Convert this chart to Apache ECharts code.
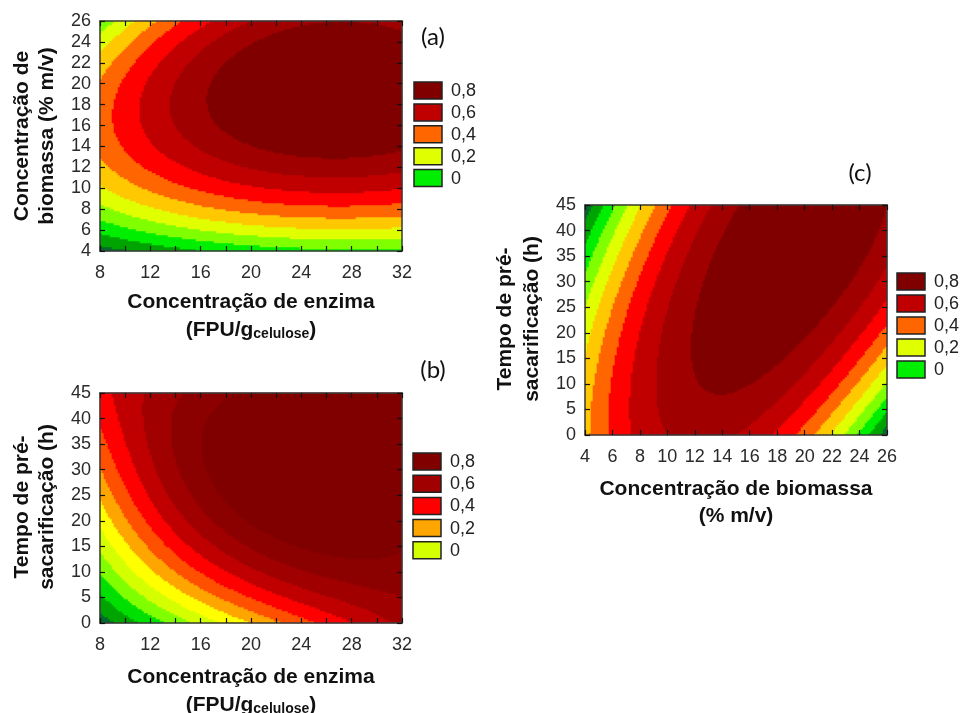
<!DOCTYPE html>
<html>
<head>
<meta charset="utf-8">
<script src="https://cdn.jsdelivr.net/npm/echarts@6/dist/echarts.min.js"></script>
<style>
  html, body { margin: 0; padding: 0; background: #ffffff; }
  #chart { width: 962px; height: 713px; }
</style>
</head>
<body>
<div id="chart"></div>
<script>
// Fitted response-surface coefficients: z = sum c[i][j] * u^i * v^j,
// u and v are the two factors coded to [-1, 1] over the plotted ranges.
const surfaceA = [[0.83, 0.33, -0.46], [0.205, 0.105, 0.01], [-0.185, -0.09, 0.015]];   // enzyme x biomass
const surfaceB = [[0.85, 0.31, -0.34], [0.345, -0.1475, -0.0025], [-0.335, -0.0475, 0.2175]]; // enzyme x time
const surfaceC = [[0.88, 0.045, -0.135], [0.145, 0.3775, -0.0375], [-0.505, 0.0625, -0.0325]]; // biomass x time

// Factor ranges
const enzymeRange = [8, 32];
const biomassRange = [4, 26];
const timeRange = [0, 45];

// Contour levels and band colours
const levelsAC = [-0.1, 0, 0.1, 0.2, 0.3, 0.4, 0.5, 0.6, 0.7, 0.8];
const colorsAC = ['#006b2c', '#00a400', '#00ee00', '#80ff00', '#e0ff00', '#ffc800',
                  '#ff6600', '#ff0000', '#c00000', '#a00000', '#800000'];
const levelsB = [-0.3, -0.2, -0.1, 0, 0.1, 0.2, 0.3, 0.4, 0.5, 0.6, 0.7, 0.8];
const colorsB = ['#006b2c', '#00a400', '#00e000', '#80ff00', '#d4ff00', '#ffff00', '#ffa500',
                 '#ff5000', '#ff0000', '#c00000', '#a00000', '#8c0000', '#800000'];

// Legend entries
const legendLabels = ['0,8', '0,6', '0,4', '0,2', '0'];
const legendColorsAC = ['#800000', '#c00000', '#ff6600', '#e0ff00', '#00ee00'];
const legendColorsB = ['#800000', '#a00000', '#ff0000', '#ffa500', '#d4ff00'];

const FAMILY = '"Liberation Sans", Arial, sans-serif';
const INK = '#111111';
const NX = 151, NY = 115;   // sampling cells per panel (2 px each)

const panels = [
  { grid: { left: 100, top: 21, width: 302, height: 230 }, xr: enzymeRange, yr: biomassRange,
    coef: surfaceA, xInt: 4, xMinor: true, yInt: 2, levels: levelsAC, colors: colorsAC,
    legendColors: legendColorsAC, legendX: 414, legendY: 82, legendStep: 21.9,
    tag: { text: '(a)', x: 433, y: 37 },
    xTitle: { y1: 302, y2: 330, main: 'Concentração de enzima', sub: ['(FPU/g', 'celulose', ')'] },
    yTitle: { x1: 22, x2: 47, y: 136, lines: ['Concentração de', 'biomassa (% m/v)'] } },
  { grid: { left: 100, top: 393, width: 302, height: 230 }, xr: enzymeRange, yr: timeRange,
    coef: surfaceB, xInt: 4, xMinor: true, yInt: 5, levels: levelsB, colors: colorsB,
    legendColors: legendColorsB, legendX: 413, legendY: 453, legendStep: 22.2,
    tag: { text: '(b)', x: 433, y: 370 },
    xTitle: { y1: 677, y2: 705, main: 'Concentração de enzima', sub: ['(FPU/g', 'celulose', ')'] },
    yTitle: { x1: 22, x2: 47, y: 507, lines: ['Tempo de pré-', 'sacarificação (h)'] } },
  { grid: { left: 585, top: 205, width: 302, height: 230 }, xr: biomassRange, yr: timeRange,
    coef: surfaceC, xInt: 2, xMinor: false, yInt: 5, levels: levelsAC, colors: colorsAC,
    legendColors: legendColorsAC, legendX: 897, legendY: 273, legendStep: 22,
    tag: { text: '(c)', x: 860, y: 173 },
    xTitle: { y1: 489, y2: 516, main: 'Concentração de biomassa', plain2: '(% m/v)' },
    yTitle: { x1: 505, x2: 532, y: 319, lines: ['Tempo de pré-', 'sacarificação (h)'] } }
];

function evalSurface(coef, xr, yr, x, y) {
  const u = (x - (xr[0] + xr[1]) / 2) / ((xr[1] - xr[0]) / 2);
  const v = (y - (yr[0] + yr[1]) / 2) / ((yr[1] - yr[0]) / 2);
  let z = 0;
  for (let i = 0; i < 3; i++) {
    for (let j = 0; j < 3; j++) {
      z += coef[i][j] * Math.pow(u, i) * Math.pow(v, j);
    }
  }
  return z;
}

function buildCells(p) {
  const data = [];
  const dx = (p.xr[1] - p.xr[0]) / NX, dy = (p.yr[1] - p.yr[0]) / NY;
  for (let i = 0; i < NX; i++) {
    const x = p.xr[0] + (i + 0.5) * dx;
    for (let j = 0; j < NY; j++) {
      const y = p.yr[0] + (j + 0.5) * dy;
      data.push([i, j, evalSurface(p.coef, p.xr, p.yr, x, y)]);
    }
  }
  return data;
}

function buildPieces(levels, colors) {
  return colors.map((c, k) => {
    const piece = { color: c };
    if (k > 0) piece.gte = levels[k - 1];
    if (k < levels.length) piece.lt = levels[k];
    return piece;
  });
}

const measureCtx = document.createElement('canvas').getContext('2d');
function textWidth(str, font) { measureCtx.font = font; return measureCtx.measureText(str).width; }

const idxX = Array.from({ length: NX }, (_, i) => i);
const idxY = Array.from({ length: NY }, (_, i) => i);

const grids = [], xAxes = [], yAxes = [], series = [], visualMaps = [], graphics = [];

const frameLine = { show: true, lineStyle: { color: '#3a3a3a', width: 1.5 } };
const tickStyle = { color: '#111111', width: 1.2 };
const tickFont = { fontFamily: FAMILY, fontSize: 18, color: '#2a2a2a' };

panels.forEach((p, g) => {
  grids.push(Object.assign({ containLabel: false }, p.grid));

  // hidden band axes carrying the sampled cells
  xAxes.push({ type: 'category', gridIndex: g, data: idxX, show: false, position: 'bottom' });
  yAxes.push({ type: 'category', gridIndex: g, data: idxY, show: false, position: 'left' });

  const xBase = {
    type: 'value', gridIndex: g, min: p.xr[0], max: p.xr[1], interval: p.xInt, z: 10,
    axisLine: frameLine, splitLine: { show: false },
    axisTick: { show: true, inside: true, length: 5, lineStyle: tickStyle },
    minorTick: { show: p.xMinor, splitNumber: 2, length: 5, lineStyle: tickStyle },
    minorSplitLine: { show: false }
  };
  xAxes.push(Object.assign({}, xBase, {
    position: 'bottom',
    axisLabel: Object.assign({ show: true, margin: 13, showMinLabel: true, showMaxLabel: true }, tickFont)
  }));
  xAxes.push(Object.assign({}, xBase, { position: 'top', axisLabel: { show: false } }));

  const yBase = {
    type: 'value', gridIndex: g, min: p.yr[0], max: p.yr[1], interval: p.yInt, z: 10,
    axisLine: frameLine, splitLine: { show: false },
    axisTick: { show: true, inside: true, length: 5, lineStyle: tickStyle }
  };
  yAxes.push(Object.assign({}, yBase, {
    position: 'left',
    axisLabel: Object.assign({ show: true, margin: 9, showMinLabel: true, showMaxLabel: true }, tickFont)
  }));
  yAxes.push(Object.assign({}, yBase, { position: 'right', axisLabel: { show: false } }));

  series.push({
    type: 'heatmap', xAxisIndex: 3 * g, yAxisIndex: 3 * g, data: buildCells(p),
    progressive: 0, animation: false, emphasis: { disabled: true },
    itemStyle: { borderWidth: 0 }, z: 2
  });
  visualMaps.push({
    type: 'piecewise', show: false, seriesIndex: g, dimension: 2,
    pieces: buildPieces(p.levels, p.colors)
  });

  // legend boxes
  legendLabels.forEach((lab, k) => {
    const top = p.legendY + k * p.legendStep;
    graphics.push({ type: 'rect', shape: { x: p.legendX, y: top, width: 28, height: 17 },
      style: { fill: p.legendColors[k], stroke: '#222222', lineWidth: 1.5 }, z: 20 });
    graphics.push({ type: 'text', x: p.legendX + 37, y: top + 9,
      style: { text: lab, font: '18px ' + FAMILY, fill: '#222222', align: 'left', verticalAlign: 'middle' }, z: 20 });
  });

  // panel tag
  graphics.push({ type: 'text', x: p.tag.x, y: p.tag.y,
    style: { text: p.tag.text, font: '24px Lato, "Open Sans", sans-serif', fill: INK, align: 'center', verticalAlign: 'middle' }, z: 20 });

  // x-axis title
  const cx = p.grid.left + p.grid.width / 2;
  const fMain = 'bold 21px ' + FAMILY;
  graphics.push({ type: 'text', x: cx, y: p.xTitle.y1,
    style: { text: p.xTitle.main, font: fMain, fill: INK, align: 'center', verticalAlign: 'middle' }, z: 20 });
  if (p.xTitle.sub) {
    const fSub = 'bold 14px ' + FAMILY;
    const [a, s, b] = p.xTitle.sub;
    const wa = textWidth(a, fMain), ws = textWidth(s, fSub), wb = textWidth(b, fMain);
    let x = cx - (wa + ws + wb) / 2;
    graphics.push({ type: 'text', x: x, y: p.xTitle.y2,
      style: { text: a, font: fMain, fill: INK, align: 'left', verticalAlign: 'middle' }, z: 20 });
    x += wa;
    graphics.push({ type: 'text', x: x, y: p.xTitle.y2 + 0.35 * 21 - 0.35 * 14 + 2,
      style: { text: s, font: fSub, fill: INK, align: 'left', verticalAlign: 'middle' }, z: 20 });
    x += ws;
    graphics.push({ type: 'text', x: x, y: p.xTitle.y2,
      style: { text: b, font: fMain, fill: INK, align: 'left', verticalAlign: 'middle' }, z: 20 });
  } else {
    graphics.push({ type: 'text', x: cx, y: p.xTitle.y2,
      style: { text: p.xTitle.plain2, font: fMain, fill: INK, align: 'center', verticalAlign: 'middle' }, z: 20 });
  }

  // y-axis title, two rotated lines
  [p.yTitle.x1, p.yTitle.x2].forEach((xx, k) => {
    graphics.push({ type: 'text', x: xx, y: p.yTitle.y, rotation: Math.PI / 2,
      style: { text: p.yTitle.lines[k], font: fMain, fill: INK, align: 'center', verticalAlign: 'middle' }, z: 20 });
  });
});

const chart = echarts.init(document.getElementById('chart'), null, { renderer: 'canvas' });
chart.setOption({
  animation: false,
  backgroundColor: '#ffffff',
  grid: grids,
  xAxis: xAxes,
  yAxis: yAxes,
  visualMap: visualMaps,
  series: series,
  graphic: { elements: graphics }
});
</script>
</body>
</html>
